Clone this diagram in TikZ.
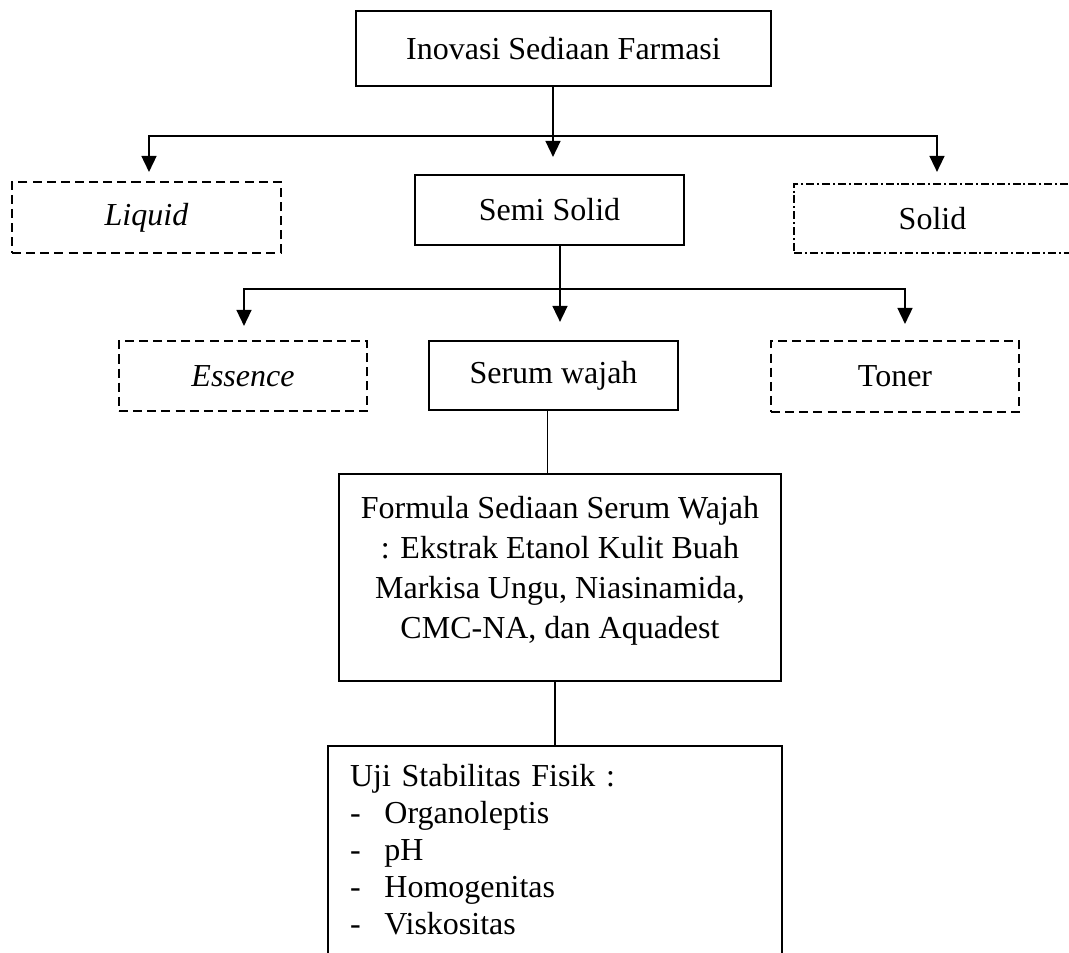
\documentclass[tikz,border=0pt]{standalone}
\usepackage{fontspec}
\setmainfont{Liberation Serif}
\usepackage{tikz}
\usetikzlibrary{arrows.meta}
\usetikzlibrary{positioning,calc}
\tikzset{
    solidbox/.style={
        draw,
        rectangle,
        line width=0.8pt,
        align=center,
        inner sep=0pt,
        font=\fontsize{12}{15}\selectfont
    },
    dashedbox/.style={
        solidbox,
        dash pattern=on 3.4pt off 1.9pt
    },
    dashdotbox/.style={
        solidbox,
        dash pattern=on 3pt off 1.1pt on 0.75pt off 1.1pt
    },
    link/.style={
        draw,
        line width=0.65pt
    },
    arrowline/.style={
        link,
        -{Triangle[length=6pt, width=5.6pt]}
    }
}

\begin{document}
\begin{tikzpicture}[x=0.375pt, y=-0.375pt]
  \useasboundingbox (0,0) rectangle (1069,953);

  % Top level
  \node[solidbox, minimum width=155.6pt, minimum height=28.1pt] (top) at (563.5,48.5) {Inovasi Sediaan Farmasi};

  % Kinds of dosage form
  \node[dashedbox, minimum width=100.9pt, minimum height=26.6pt] (liquid) at (146.5,217.5) {\textit{Liquid}};
  \node[solidbox, minimum width=100.9pt, minimum height=26.25pt] (semi) at (549.5,210) {Semi Solid};
  \node[dashdotbox, minimum width=103.9pt, minimum height=25.9pt] (solid) at (932.5,218.5) {Solid};

  % Kinds of semi solid
  \node[dashedbox, minimum width=93pt, minimum height=26.25pt] (essence) at (243,376) {\textit{Essence}};
  \node[solidbox, minimum width=93.4pt, minimum height=25.9pt] (serum) at (553.5,375.5) {Serum wajah};
  \node[dashedbox, minimum width=93pt, minimum height=26.6pt] (toner) at (895,376.5) {Toner};

  % Formula and tests
  \node[solidbox, minimum width=165.75pt, minimum height=77.6pt] (formula) at (560,577.5) {Formula Sediaan Serum Wajah\\
    : Ekstrak Etanol Kulit Buah\\
    Markisa Ungu, Niasinamida,\\
    CMC-NA, dan Aquadest\rule[-7.9pt]{0pt}{0pt}};
  \node[solidbox, anchor=north west, align=left, text width=153.75pt,
        inner xsep=8.25pt, inner ysep=6.75pt,
        font=\fontsize{12}{13.9}\selectfont] (uji) at (327,745) {Uji Stabilitas Fisik :\\
    \makebox[12.9pt][l]{-}Organoleptis\\
    \makebox[12.9pt][l]{-}pH\\
    \makebox[12.9pt][l]{-}Homogenitas\\
    \makebox[12.9pt][l]{-}Viskositas\\
    \mbox{}};

  % First branching
  \coordinate (busA) at (553,136);
  \draw[arrowline] (top.south -| busA) -- ($(semi.north -| busA)+(0,-17)$);
  \draw[arrowline] (busA) -| ($(liquid.north)+(2.5,-9)$);
  \draw[arrowline] (busA) -| ($(solid.north)+(4.5,-11)$);

  % Second branching
  \coordinate (busB) at (560,289);
  \draw[arrowline] (semi.south -| busB) -- ($(serum.north -| busB)+(0,-18)$);
  \draw[arrowline] (busB) -| ($(essence.north)+(1,-14)$);
  \draw[arrowline] (busB) -| ($(toner.north)+(10,-16)$);

  % Plain links downwards
  \draw[link] ($(serum.south)+(-6,0)$) -- ($(serum.south |- formula.north)+(-6,0)$);
  \draw[link] (formula.south -| uji.north) -- (uji.north);
\end{tikzpicture}
\end{document}
